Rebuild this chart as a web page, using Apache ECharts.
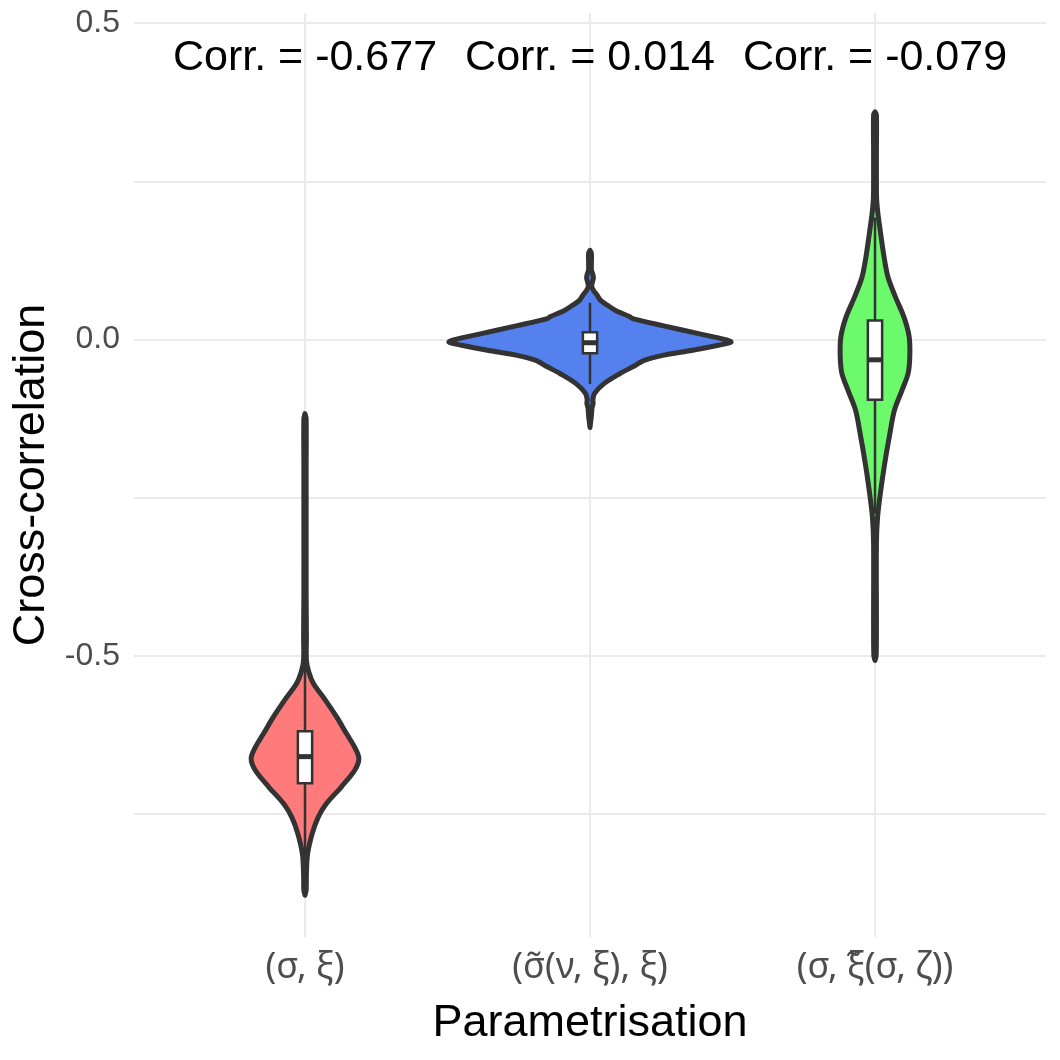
<!DOCTYPE html>
<html>
<head>
<meta charset="utf-8">
<title>Cross-correlation by parametrisation</title>
<script src="https://cdn.jsdelivr.net/npm/echarts@6/dist/echarts.min.js"></script>
<style>
  html, body { margin: 0; padding: 0; background: #fff; }
  #main { width: 1060px; height: 1060px; }
</style>
</head>
<body>
<div id="main"></div>
<script>
// categories on the x axis
var categories = ['(σ, ξ)', '(σ\u0303(ν, ξ), ξ)', '(σ, ξ\u0303(σ, ζ))'];

// violin outlines: [cross-correlation, half width in x-axis units]
var violinSigmaXi = [
  [-0.117, 0], [-0.125, 0.004], [-0.20, 0.004], [-0.30, 0.004], [-0.40, 0.004],
  [-0.47, 0.005], [-0.507, 0.005], [-0.525, 0.013], [-0.544, 0.030], [-0.570, 0.072],
  [-0.597, 0.112], [-0.623, 0.146], [-0.644, 0.174], [-0.662, 0.189], [-0.681, 0.174],
  [-0.707, 0.127], [-0.734, 0.074], [-0.755, 0.046], [-0.781, 0.025], [-0.813, 0.009],
  [-0.844, 0.005], [-0.870, 0.004], [-0.878, 0]
];
var violinSigmaTilde = [
  [0.141, 0], [0.136, 0.005], [0.110, 0.005], [0.103, 0.010], [0.097, 0.012],
  [0.090, 0.008], [0.084, 0.006], [0.078, 0.012], [0.070, 0.025], [0.062, 0.037],
  [0.054, 0.062], [0.046, 0.090], [0.036, 0.140], [0.033, 0.150], [0.022, 0.255],
  [0.009, 0.385], [0.000, 0.475], [-0.004, 0.495], [-0.009, 0.450], [-0.017, 0.360],
  [-0.025, 0.255], [-0.033, 0.190], [-0.043, 0.150], [-0.054, 0.104], [-0.070, 0.048],
  [-0.085, 0.016], [-0.095, 0.010], [-0.101, 0.011], [-0.108, 0.007], [-0.120, 0.005],
  [-0.139, 0]
];
var violinXiTilde = [
  [0.360, 0], [0.355, 0.005], [0.30, 0.005], [0.24, 0.005], [0.22, 0.006],
  [0.20, 0.010], [0.183, 0.015], [0.130, 0.032], [0.098, 0.046], [0.067, 0.072],
  [0.035, 0.102], [0.004, 0.120], [-0.028, 0.122], [-0.054, 0.116], [-0.081, 0.094],
  [-0.112, 0.068], [-0.154, 0.050], [-0.196, 0.034], [-0.239, 0.020], [-0.281, 0.009],
  [-0.322, 0.005], [-0.45, 0.005], [-0.50, 0.004], [-0.507, 0]
];
var violins = [violinSigmaXi, violinSigmaTilde, violinXiTilde];

// boxplots: [lower whisker, Q1, median, Q3, upper whisker]
var boxes = [
  [-0.824, -0.701, -0.659, -0.619, -0.504],
  [-0.070, -0.0216, -0.005, 0.0115, 0.058],
  [-0.275, -0.095, -0.032, 0.030, 0.193]
];

// correlation annotations
var corrValues = [-0.677, 0.014, -0.079];
var corrLevel = 0.445;

// y axis ticks
var yMajorTicks = [-0.5, 0, 0.5];
var yGridTicks = [-0.75, -0.5, -0.25, 0, 0.25, 0.5];

var fillColors = ['#FF7A7A', '#5481EE', '#6CFA6C'];
var boxHalf = 0.025;

var myChart = echarts.init(document.getElementById('main'));

function renderViolin(params, api) {
  var i = params.dataIndex;
  var cx = api.value(0);
  var outline = violins[i];
  var pts = [];
  outline.forEach(function (p) { pts.push(api.coord([cx + p[1], p[0]])); });
  for (var k = outline.length - 1; k >= 0; k--) {
    pts.push(api.coord([cx - outline[k][1], outline[k][0]]));
  }
  var b = boxes[i];
  var lo = api.coord([cx, b[0]]);
  var hi = api.coord([cx, b[4]]);
  var q3l = api.coord([cx - boxHalf, b[3]]);
  var q1r = api.coord([cx + boxHalf, b[1]]);
  var medL = api.coord([cx - boxHalf, b[2]]);
  var medR = api.coord([cx + boxHalf, b[2]]);
  return {
    type: 'group',
    children: [
      {
        type: 'polygon',
        shape: { points: pts, smooth: 0.3 },
        style: { fill: fillColors[i], stroke: '#333333', lineWidth: 5, lineJoin: 'round' }
      },
      {
        type: 'line',
        shape: { x1: lo[0], y1: lo[1], x2: hi[0], y2: hi[1] },
        style: { stroke: '#333333', lineWidth: 2.5 }
      },
      {
        type: 'rect',
        shape: { x: q3l[0], y: q3l[1], width: q1r[0] - q3l[0], height: q1r[1] - q3l[1] },
        style: { fill: '#ffffff', stroke: '#333333', lineWidth: 2.5 }
      },
      {
        type: 'line',
        shape: { x1: medL[0], y1: medL[1], x2: medR[0], y2: medR[1] },
        style: { stroke: '#333333', lineWidth: 5 }
      }
    ]
  };
}

myChart.setOption({
  animation: false,
  backgroundColor: '#ffffff',
  textStyle: { fontFamily: 'Liberation Sans' },
  grid: { left: 134, right: 14, top: 13, bottom: 123 },
  xAxis: {
    type: 'value',
    min: 0.4,
    max: 3.6,
    name: 'Parametrisation',
    nameLocation: 'middle',
    nameGap: 64,
    nameTextStyle: { fontSize: 45, color: '#000000', fontFamily: 'Liberation Sans' },
    axisLine: { show: false },
    axisTick: { show: false, customValues: [1, 2, 3] },
    axisLabel: {
      customValues: [1, 2, 3],
      margin: 13,
      fontSize: 36,
      color: '#4D4D4D',
      fontFamily: 'Noto Sans',
      formatter: function (v) { return categories[Math.round(v) - 1]; }
    },
    splitLine: { show: true, lineStyle: { color: '#EBEBEB', width: 2 } }
  },
  yAxis: {
    type: 'value',
    min: -0.944,
    max: 0.516,
    name: 'Cross-correlation',
    nameLocation: 'middle',
    nameGap: 80,
    nameTextStyle: { fontSize: 45, color: '#000000', fontFamily: 'Liberation Sans' },
    axisLine: { show: false },
    axisTick: { show: false, customValues: yGridTicks },
    axisLabel: {
      customValues: yMajorTicks,
      margin: 14,
      fontSize: 32,
      color: '#4D4D4D',
      fontFamily: 'Liberation Sans',
      formatter: function (v) { return v.toFixed(1); }
    },
    splitLine: { show: true, lineStyle: { color: '#EBEBEB', width: 2 } }
  },
  series: [
    {
      type: 'custom',
      renderItem: renderViolin,
      data: [[1], [2], [3]],
      z: 3
    },
    {
      type: 'scatter',
      symbolSize: 0,
      itemStyle: { opacity: 1 },
      data: corrValues.map(function (v, i) { return [i + 1, corrLevel, v]; }),
      label: {
        show: true,
        position: 'inside',
        fontSize: 43,
        color: '#000000',
        opacity: 1,
        textBorderWidth: 0,
        fontFamily: 'Liberation Sans',
        formatter: function (p) { return 'Corr. = ' + p.data[2].toFixed(3); }
      },
      z: 4
    }
  ]
});
</script>
</body>
</html>
